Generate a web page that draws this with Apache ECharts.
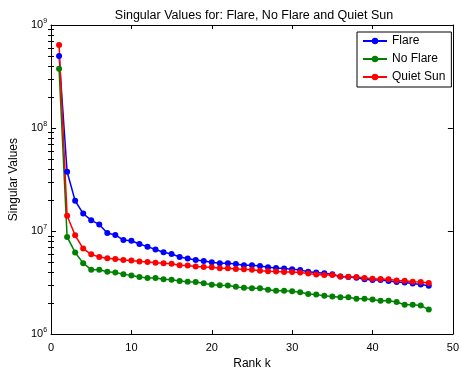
<!DOCTYPE html>
<html>
<head>
<meta charset="utf-8">
<script src="https://cdn.jsdelivr.net/npm/echarts@6/dist/echarts.min.js"></script>
<style>
  html, body { margin: 0; padding: 0; background: #fff; }
  #chart { width: 462px; height: 375px; }
</style>
</head>
<body>
<div id="chart"></div>
<script>
// Singular value spectra for three solar observation sets, rank k = 1..47
const rankK = [1, 2, 3, 4, 5, 6, 7, 8, 9, 10, 11, 12, 13, 14, 15, 16, 17, 18, 19, 20,
  21, 22, 23, 24, 25, 26, 27, 28, 29, 30, 31, 32, 33, 34, 35, 36, 37, 38, 39, 40,
  41, 42, 43, 44, 45, 46, 47];

const flare = [5.0e8, 3.76e7, 1.97e7, 1.48e7, 1.27e7, 1.16e7, 9.57e6, 9.17e6, 8.17e6, 8.05e6,
  7.49e6, 7.06e6, 6.62e6, 6.24e6, 5.98e6, 5.60e6, 5.41e6, 5.25e6, 5.13e6, 4.99e6,
  4.88e6, 4.86e6, 4.78e6, 4.67e6, 4.67e6, 4.57e6, 4.45e6, 4.38e6, 4.33e6, 4.26e6,
  4.19e6, 4.02e6, 3.96e6, 3.90e6, 3.82e6, 3.63e6, 3.58e6, 3.53e6, 3.40e6, 3.35e6,
  3.35e6, 3.28e6, 3.21e6, 3.16e6, 3.09e6, 3.03e6, 2.94e6];

const noFlare = [3.76e8, 8.78e6, 6.20e6, 4.88e6, 4.22e6, 4.22e6, 4.02e6, 3.96e6, 3.82e6, 3.71e6,
  3.58e6, 3.50e6, 3.50e6, 3.40e6, 3.37e6, 3.28e6, 3.23e6, 3.21e6, 3.11e6, 3.01e6,
  2.98e6, 2.96e6, 2.88e6, 2.81e6, 2.78e6, 2.78e6, 2.70e6, 2.64e6, 2.64e6, 2.60e6,
  2.55e6, 2.45e6, 2.42e6, 2.35e6, 2.32e6, 2.28e6, 2.28e6, 2.20e6, 2.20e6, 2.17e6,
  2.11e6, 2.11e6, 2.05e6, 1.93e6, 1.93e6, 1.89e6, 1.73e6];

const quietSun = [6.38e8, 1.41e7, 9.10e6, 6.76e6, 5.94e6, 5.60e6, 5.44e6, 5.37e6, 5.25e6, 5.18e6,
  5.06e6, 5.02e6, 4.92e6, 4.88e6, 4.81e6, 4.67e6, 4.64e6, 4.54e6, 4.48e6, 4.45e6,
  4.35e6, 4.35e6, 4.29e6, 4.26e6, 4.22e6, 4.13e6, 4.07e6, 4.04e6, 4.01e6, 4.01e6,
  3.96e6, 3.87e6, 3.79e6, 3.74e6, 3.74e6, 3.63e6, 3.60e6, 3.58e6, 3.50e6, 3.45e6,
  3.43e6, 3.40e6, 3.32e6, 3.30e6, 3.23e6, 3.21e6, 3.14e6];

const seriesNames = ['Flare', 'No Flare', 'Quiet Sun'];
const seriesColors = ['#0000ff', '#008000', '#ff0000'];

const xTicks = [0, 10, 20, 30, 40, 50];
const yDecades = [1e6, 1e7, 1e8, 1e9];
const yMinor = [2e6, 3e6, 4e6, 5e6, 6e6, 7e6, 8e6, 9e6,
  2e7, 3e7, 4e7, 5e7, 6e7, 7e7, 8e7, 9e7,
  2e8, 3e8, 4e8, 5e8, 6e8, 7e8, 8e8, 9e8];

const FONT = '"Liberation Sans", Arial, Helvetica, sans-serif';
const chart = echarts.init(document.getElementById('chart'), null, { renderer: 'canvas' });

function pairs(values) {
  return values.map((v, i) => [rankK[i], v]);
}

const frameLine = { show: true, onZero: false, lineStyle: { color: '#000', width: 1 } };

function xAxisDef(position, showLabels) {
  return {
    type: 'value', position: position, min: 0, max: 50, interval: 10,
    axisLine: frameLine,
    axisTick: { show: true, inside: true, length: 4, customValues: xTicks,
      lineStyle: { color: '#000' } },
    axisLabel: {
      show: showLabels, color: '#000', fontSize: 11, fontFamily: FONT, margin: 8
    },
    splitLine: { show: false },
    name: showLabels ? 'Rank k' : '', nameLocation: 'middle', nameGap: 22,
    nameTextStyle: { color: '#000', fontSize: 12, fontFamily: FONT }
  };
}

function yAxisDef(position, showLabels, tickValues, tickLen, showLine) {
  return {
    type: 'log', logBase: 10, position: position, min: 1e6, max: 1e9,
    axisLine: showLine ? frameLine : { show: false },
    axisTick: { show: true, inside: true, length: tickLen, customValues: tickValues,
      lineStyle: { color: '#000' } },
    axisLabel: showLabels ? {
      show: true, customValues: yDecades, margin: 4, fontFamily: FONT,
      formatter: v => '{b|10}{s|' + Math.round(Math.log10(v)) + '}',
      rich: {
        b: { fontSize: 11, color: '#000', fontFamily: FONT },
        s: { fontSize: 7, color: '#000', fontFamily: FONT, padding: [0, 0, 8, 0] }
      }
    } : { show: false },
    splitLine: { show: false },
    name: showLabels ? 'Singular Values' : '', nameLocation: 'middle', nameGap: 25,
    nameTextStyle: { color: '#000', fontSize: 12, fontFamily: FONT }
  };
}

chart.setOption({
  animation: false,
  backgroundColor: '#fff',
  title: {
    text: 'Singular Values for: Flare, No Flare and Quiet Sun',
    left: 249, top: 4, textAlign: 'center',
    textStyle: { color: '#000', fontSize: 12.5, fontWeight: 'normal', fontFamily: FONT }
  },
  grid: { left: 51, right: 7, top: 25, bottom: 32, containLabel: false },
  xAxis: [xAxisDef('bottom', true), xAxisDef('top', false)],
  yAxis: [
    yAxisDef('left', true, yDecades, 5, true),
    yAxisDef('right', false, yDecades, 5, true),
    yAxisDef('left', false, yMinor, 3, false),
    yAxisDef('right', false, yMinor, 3, false)
  ],
  legend: {
    orient: 'vertical', left: 357, top: 32,
    padding: [2, 6, 3, 5], itemGap: 4, itemWidth: 24, itemHeight: 8,
    backgroundColor: '#fff', borderColor: '#000', borderWidth: 1,
    textStyle: { color: '#000', fontSize: 12, lineHeight: 14, fontFamily: FONT },
    data: seriesNames
  },
  series: [flare, noFlare, quietSun].map((vals, i) => ({
    name: seriesNames[i],
    type: 'line',
    xAxisIndex: 0, yAxisIndex: 0,
    data: pairs(vals),
    symbol: 'circle', symbolSize: 6, showSymbol: true,
    lineStyle: { color: seriesColors[i], width: 1.5 },
    itemStyle: { color: seriesColors[i] }
  }))
});
</script>
</body>
</html>
